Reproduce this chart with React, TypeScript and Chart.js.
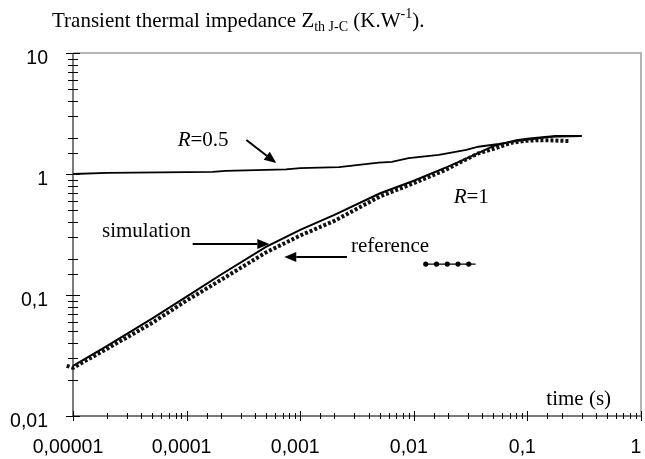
import React, { useEffect, useRef } from "react";
import { Chart, registerables } from "chart.js";

Chart.register(...registerables);

// Axis ticks
const X_TICK_VALUES = [1e-5, 1e-4, 1e-3, 1e-2, 1e-1, 1];
const X_TICK_LABELS = ["0,00001", "0,0001", "0,001", "0,01", "0,1", "1"];
const Y_TICK_VALUES = [0.01, 0.1, 1, 10];
const Y_TICK_LABELS = ["0,01", "0,1", "1", "10"];

// R = 0.5 curve (solid)
const R05_TIME = [1e-5, 2e-5, 1.7e-4, 2.2e-4, 7.5e-4, 1e-3, 2.2e-3, 4.9e-3, 6.4e-3, 9e-3, 0.0166, 0.029, 0.037, 0.056, 0.083, 0.125, 0.176, 0.3];
const R05_Z = [1.0, 1.02, 1.04, 1.06, 1.09, 1.12, 1.14, 1.24, 1.26, 1.35, 1.44, 1.58, 1.68, 1.77, 1.88, 1.97, 2.06, 2.06];

// R = 1 simulation (solid)
const SIM_TIME = [1e-5, 2e-5, 5e-5, 1e-4, 2e-4, 5e-4, 1e-3, 2e-3, 5e-3, 0.01, 0.02, 0.03, 0.05, 0.08, 0.1, 0.15, 0.3];
const SIM_Z = [0.026, 0.038, 0.064, 0.097, 0.147, 0.25, 0.345, 0.46, 0.69, 0.88, 1.15, 1.36, 1.7, 1.9, 1.96, 2.03, 2.06];

// R = 1 reference (dotted)
const REF_TIME = [8.8e-6, 1e-5, 2e-5, 5e-5, 1e-4, 2e-4, 5e-4, 1e-3, 2e-3, 5e-3, 0.01, 0.019, 0.026, 0.037, 0.052, 0.072, 0.096, 0.118, 0.16, 0.23];
const REF_Z = [0.026, 0.025, 0.036, 0.059, 0.09, 0.133, 0.225, 0.31, 0.41, 0.65, 0.84, 1.08, 1.26, 1.48, 1.63, 1.81, 1.88, 1.9, 1.9, 1.87];

// legend sample for "reference"
const LEGEND_TIME = [0.01274, 0.01584, 0.0197, 0.0245, 0.03047, 0.035];
const LEGEND_Z = [0.18, 0.18, 0.18, 0.18, 0.18, 0.18];
const LEGEND_RADIUS = [2.6, 2.6, 2.6, 2.6, 2.6, 0];

// annotations, anchored in data coordinates
const TEXT_R05 = { t: 8.34e-5, z: 1.7 };
const ARROW_R05 = { t1: 3.36e-4, z1: 1.91, t2: 6.15e-4, z2: 1.23 };
const TEXT_SIM = { t: 1.8e-5, z: 0.301 };
const ARROW_SIM = { t1: 1.13e-4, z1: 0.264, t2: 5.35e-4, z2: 0.264 };
const TEXT_REF = { t: 2.8e-3, z: 0.2266 };
const ARROW_REF = { t1: 2.58e-3, z1: 0.206, t2: 7.24e-4, z2: 0.206 };
const TEXT_R1 = { t: 0.02245, z: 0.575 };
const TEXT_TIME = { t: 0.1468, z: 0.01233 };

const SERIF = "'Liberation Serif', 'Times New Roman', serif";
const SANS = "'Liberation Sans', Arial, sans-serif";

const isPow10 = (v: number) => Math.abs(Math.log10(v) - Math.round(Math.log10(v))) < 1e-6;

function labelFor(values: number[], labels: string[], v: number) {
  for (let i = 0; i < values.length; i++) {
    if (Math.abs(Math.log10(v) - Math.log10(values[i])) < 1e-6) return labels[i];
  }
  return "";
}

const decorPlugin = {
  id: "decor",
  beforeDatasetsDraw(chart: any) {
    const { ctx, chartArea } = chart;
    const { left, right, top, bottom } = chartArea;
    ctx.save();
    // plot frame
    ctx.lineWidth = 2;
    ctx.strokeStyle = "#b4b4b4";
    ctx.beginPath();
    ctx.moveTo(left, top);
    ctx.lineTo(right, top);
    ctx.lineTo(right, bottom);
    ctx.stroke();
    ctx.strokeStyle = "#7a7a7a";
    ctx.beginPath();
    ctx.moveTo(left, top);
    ctx.lineTo(left, bottom);
    ctx.lineTo(right, bottom);
    ctx.stroke();
    // tick marks crossing axes
    ctx.strokeStyle = "#000";
    ctx.lineWidth = 1;
    const xs = chart.scales.x;
    const ys = chart.scales.y;
    xs.ticks.forEach((tk: any) => {
      const px = Math.round(xs.getPixelForValue(tk.value)) + 0.5;
      const h = isPow10(tk.value) ? 5 : 3;
      ctx.beginPath();
      ctx.moveTo(px, bottom - h);
      ctx.lineTo(px, bottom + h);
      ctx.stroke();
    });
    ys.ticks.forEach((tk: any) => {
      const py = Math.round(ys.getPixelForValue(tk.value)) + 0.5;
      const w = isPow10(tk.value) ? 7 : 5;
      ctx.beginPath();
      ctx.moveTo(left - w, py);
      ctx.lineTo(left + w, py);
      ctx.stroke();
    });
    ctx.restore();
  },
  afterDatasetsDraw(chart: any) {
    const { ctx } = chart;
    const xs = chart.scales.x;
    const ys = chart.scales.y;
    const P = (t: number, z: number) => [xs.getPixelForValue(t), ys.getPixelForValue(z)];
    ctx.save();
    ctx.fillStyle = "#000";
    ctx.strokeStyle = "#000";
    ctx.textBaseline = "alphabetic";
    ctx.textAlign = "left";
    const normal = `21px ${SERIF}`;
    const italic = `italic 21px ${SERIF}`;

    const rText = (anchor: { t: number; z: number }, rest: string) => {
      const [x, y] = P(anchor.t, anchor.z);
      ctx.font = italic;
      ctx.fillText("R", x, y);
      const w = ctx.measureText("R").width;
      ctx.font = normal;
      ctx.fillText(rest, x + w, y);
    };
    const text = (anchor: { t: number; z: number }, s: string) => {
      const [x, y] = P(anchor.t, anchor.z);
      ctx.font = normal;
      ctx.fillText(s, x, y);
    };
    const arrow = (a: { t1: number; z1: number; t2: number; z2: number }) => {
      const [x1, y1] = P(a.t1, a.z1);
      const [x2, y2] = P(a.t2, a.z2);
      const ang = Math.atan2(y2 - y1, x2 - x1);
      const hl = 12;
      const hw = 5;
      const bx = x2 - hl * Math.cos(ang);
      const by = y2 - hl * Math.sin(ang);
      ctx.lineWidth = 2;
      ctx.beginPath();
      ctx.moveTo(x1, y1);
      ctx.lineTo(bx, by);
      ctx.stroke();
      ctx.beginPath();
      ctx.moveTo(x2, y2);
      ctx.lineTo(bx + hw * Math.sin(ang), by - hw * Math.cos(ang));
      ctx.lineTo(bx - hw * Math.sin(ang), by + hw * Math.cos(ang));
      ctx.closePath();
      ctx.fill();
    };

    rText(TEXT_R05, "=0.5");
    arrow(ARROW_R05);
    text(TEXT_SIM, "simulation");
    arrow(ARROW_SIM);
    text(TEXT_REF, "reference");
    arrow(ARROW_REF);
    rText(TEXT_R1, "=1");
    text(TEXT_TIME, "time (s)");

    // title
    let x = 52;
    const base = 27;
    ctx.font = normal;
    const t1 = "Transient thermal impedance Z";
    ctx.fillText(t1, x, base);
    x += ctx.measureText(t1).width;
    ctx.font = `14px ${SERIF}`;
    const sub = "th J-C";
    ctx.fillText(sub, x, base + 4);
    x += ctx.measureText(sub).width;
    ctx.font = normal;
    const t2 = " (K.W";
    ctx.fillText(t2, x, base);
    x += ctx.measureText(t2).width;
    ctx.font = `14px ${SERIF}`;
    const sup = "-1";
    ctx.fillText(sup, x, base - 9);
    x += ctx.measureText(sup).width;
    ctx.font = normal;
    ctx.fillText(").", x, base);
    ctx.restore();
  },
};

export default function App() {
  const ref = useRef<HTMLCanvasElement | null>(null);
  useEffect(() => {
    if (!ref.current) return;
    const toPts = (ts: number[], zs: number[]) => ts.map((t, i) => ({ x: t, y: zs[i] }));
    const chart = new Chart(ref.current, {
      type: "line",
      data: {
        datasets: [
          {
            label: "reference",
            data: toPts(REF_TIME, REF_Z),
            borderColor: "#111",
            borderWidth: 4,
            borderDash: [3, 2],
            borderCapStyle: "butt",
            pointRadius: 0,
            tension: 0,
            clip: false as any,
          },
          {
            label: "simulation",
            data: toPts(SIM_TIME, SIM_Z),
            borderColor: "#000",
            borderWidth: 2,
            pointRadius: 0,
            tension: 0,
          },
          {
            label: "R=0.5",
            data: toPts(R05_TIME, R05_Z),
            borderColor: "#000",
            borderWidth: 1.8,
            pointRadius: 0,
            tension: 0,
          },
          {
            label: "legend",
            data: toPts(LEGEND_TIME, LEGEND_Z),
            borderColor: "#000",
            borderWidth: 1.2,
            pointRadius: LEGEND_RADIUS,
            pointBackgroundColor: "#000",
            pointBorderWidth: 0,
            tension: 0,
          },
        ],
      },
      options: {
        animation: false,
        responsive: true,
        maintainAspectRatio: false,
        layout: { padding: { top: 53, right: 2, left: 0, bottom: 0 } },
        plugins: { legend: { display: false }, tooltip: { enabled: false }, title: { display: false } },
        scales: {
          x: {
            type: "logarithmic",
            min: 1e-5,
            max: 1,
            grid: { display: false, drawTicks: false },
            border: { display: false },
            ticks: {
              autoSkip: false,
              maxRotation: 0,
              padding: 20,
              labelOffset: -5,
              color: "#000",
              font: { family: SANS, size: 19.5 },
              callback: (v: any) => labelFor(X_TICK_VALUES, X_TICK_LABELS, Number(v)),
            },
            afterFit: (s: any) => {
              s.height = 43;
              s.paddingLeft = 0;
              s.paddingRight = 0;
            },
          },
          y: {
            type: "logarithmic",
            min: 0.01,
            max: 10,
            grid: { display: false, drawTicks: false },
            border: { display: false },
            ticks: {
              autoSkip: false,
              padding: 25,
              labelOffset: 6,
              color: "#000",
              font: { family: SANS, size: 19.5 },
              callback: (v: any) => labelFor(Y_TICK_VALUES, Y_TICK_LABELS, Number(v)),
            },
            afterFit: (s: any) => {
              s.width = 73;
              s.paddingTop = 0;
              s.paddingBottom = 0;
            },
          },
        },
      },
      plugins: [decorPlugin],
    });
    return () => chart.destroy();
  }, []);
  return (
    <div style={{ position: "absolute", left: 0, top: 0, width: 645, height: 459, background: "#fff" }}>
      <canvas ref={ref} />
    </div>
  );
}
